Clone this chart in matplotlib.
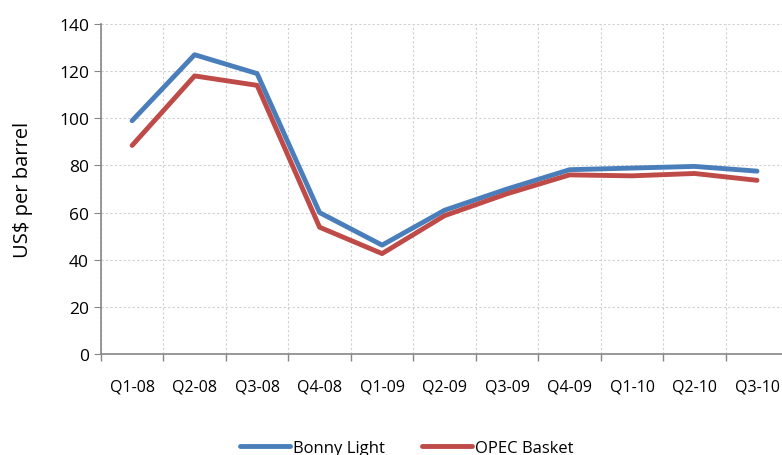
import matplotlib
matplotlib.use('Agg')
import matplotlib.pyplot as plt
import numpy as np

quarters = ['Q1-08', 'Q2-08', 'Q3-08', 'Q4-08', 'Q1-09', 'Q2-09', 'Q3-09',
            'Q4-09', 'Q1-10', 'Q2-10', 'Q3-10']
bonny_light = [99, 127, 119, 60, 46.2, 61, 70, 78.2, 78.9, 79.6, 77.6]
opec_basket = [88.5, 118, 114, 53.8, 42.6, 58.7, 68, 76, 75.6, 76.6, 73.7]

plt.rcParams['font.family'] = ['Open Sans', 'DejaVu Sans']
axis_col = '#868686'
grid_col = '#d0d0d0'

fig = plt.figure(figsize=(7.82, 4.56), dpi=100)
ax = fig.add_axes([0.129, 0.2215, 0.879, 0.7235])

x = np.arange(len(quarters))
ax.plot(x, bonny_light, color='#4a7ebb', lw=3.5, solid_capstyle='round',
        solid_joinstyle='round', label='Bonny Light', zorder=3)
ax.plot(x, opec_basket, color='#be4b48', lw=3.5, solid_capstyle='round',
        solid_joinstyle='round', label='OPEC Basket', zorder=3)

ax.set_xlim(-0.5, len(quarters) - 0.5)
ax.set_ylim(0, 140)
ax.set_yticks(np.arange(0, 141, 20))
ax.set_xticks(x)
ax.set_xticklabels(quarters, fontsize=11.5)
ax.set_xticks(np.arange(-0.5, len(quarters), 1), minor=True)
ax.tick_params(axis='x', which='major', length=0, pad=18)
ax.tick_params(axis='x', which='minor', length=5, color=axis_col, width=1)
ax.tick_params(axis='y', length=5, color=axis_col, labelsize=12.5)

ax.grid(axis='y', which='major', color=grid_col, ls=(0, (2, 2)), lw=0.8)
ax.grid(axis='x', which='minor', color=grid_col, ls=(0, (2, 2)), lw=0.8)
ax.set_axisbelow(True)

for s in ['top', 'right']:
    ax.spines[s].set_visible(False)
for s in ['left', 'bottom']:
    ax.spines[s].set_color(axis_col)
    ax.spines[s].set_linewidth(1.2)

ax.set_ylabel('US$ per barrel', fontsize=14.5, labelpad=19)

fig.legend(loc='lower center', bbox_to_anchor=(0.52, -0.035), ncol=2,
           frameon=False, fontsize=12, handlelength=3.0, handletextpad=0.2,
           columnspacing=2.2)

fig.savefig('out.png', dpi=100)
